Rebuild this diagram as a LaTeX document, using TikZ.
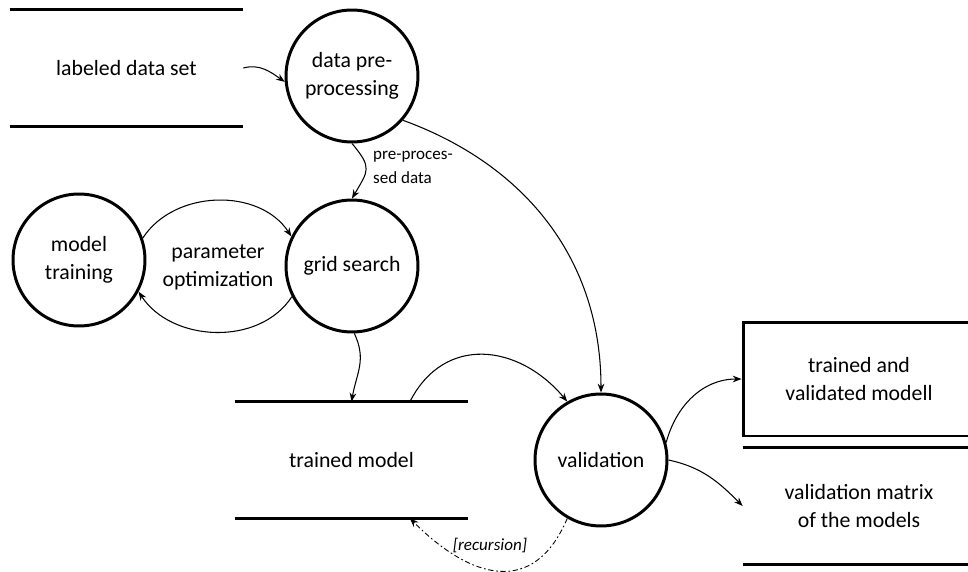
\documentclass[tikz,border=0pt]{standalone}
\usepackage{fontspec}
\setmainfont{Carlito}
\usetikzlibrary{arrows.meta,calc}

\tikzset{
  proc/.style={circle,draw,line width=1.7pt,minimum size=2.64cm,inner sep=0pt,align=center},
  store/.style={minimum width=4.66cm,minimum height=2.32cm,inner sep=0pt,align=center},
  flow/.style={->,line width=0.6pt},
  lbl/.style={font=\fontsize{9.7}{13.6}\selectfont,align=left}
}

\begin{document}
\begin{tikzpicture}[x=0.02cm,y=-0.02cm,>={Stealth[length=5pt,width=3.8pt]},
  font=\fontsize{12.4}{15.9}\selectfont]
  \useasboundingbox (0,0) rectangle (968,572);
  % processes
  \node[proc] (pp) at (352,76) {data pre-\\processing};
  \node[proc] (gs) at (352,266) {grid search};
  \node[proc] (mt) at (79,260) {model\\training};
  \node[proc] (val) at (601,460) {validation};
  % stores
  \node[store] (ds) at (126.5,68) {labeled data set};
  \node[store] (tm) at (351.5,460) {trained model};
  \node[store,minimum width=4.64cm] (vm) at (859,506) {validation matrix\\of the models};
  \foreach \s in {ds,tm,vm}
    \draw[line width=1.7pt] (\s.north west) -- (\s.north east) (\s.south west) -- (\s.south east);
  % output
  \node[store,draw,line width=1.7pt,minimum width=4.64cm,minimum height=2.28cm] (tvm) at (859,379) {trained and\\validated modell};
  % flows
  \draw[flow] (ds.east) to[out=15,in=145] (pp.185);
  \draw[flow] (pp.south) to[out=-50,in=60,looseness=1.5] (gs.north);
  \node[lbl,anchor=west] (ppd) at (367,167) {pre-proces-\\sed data};
  \draw[flow] (mt.19) to[out=57,in=123] (gs.154);
  \draw[flow] (gs.207) to[out=-123,in=-57] (mt.-28);
  \node[align=center] (po) at (218,267) {parameter\\optimization};
  \draw[flow] (gs.-88) to[out=-65,in=80,looseness=1.1] (tm.north);
  \draw[flow] ($(tm.north)!0.5!(tm.north east)$) to[out=63,in=130,looseness=1.23] (val.120);
  \draw[flow] (pp.-41) to[out=-20,in=90] (val.north);
  \draw[->,line width=0.5pt,dash pattern={on 3pt off 1.5pt on 1pt off 1.5pt}] (val.240) to[out=-113,in=-45,looseness=1.4] ($(tm.south)!0.5!(tm.south east)$);
  \node[lbl,font=\fontsize{9.7}{13.6}\selectfont\itshape] (rec) at (490,545) {[recursion]};
  \draw[flow] (val.15) to[out=75,in=180] (tvm.west);
  \draw[flow] (val.east) to[out=-12,in=135] (vm.west);
\end{tikzpicture}
\end{document}
